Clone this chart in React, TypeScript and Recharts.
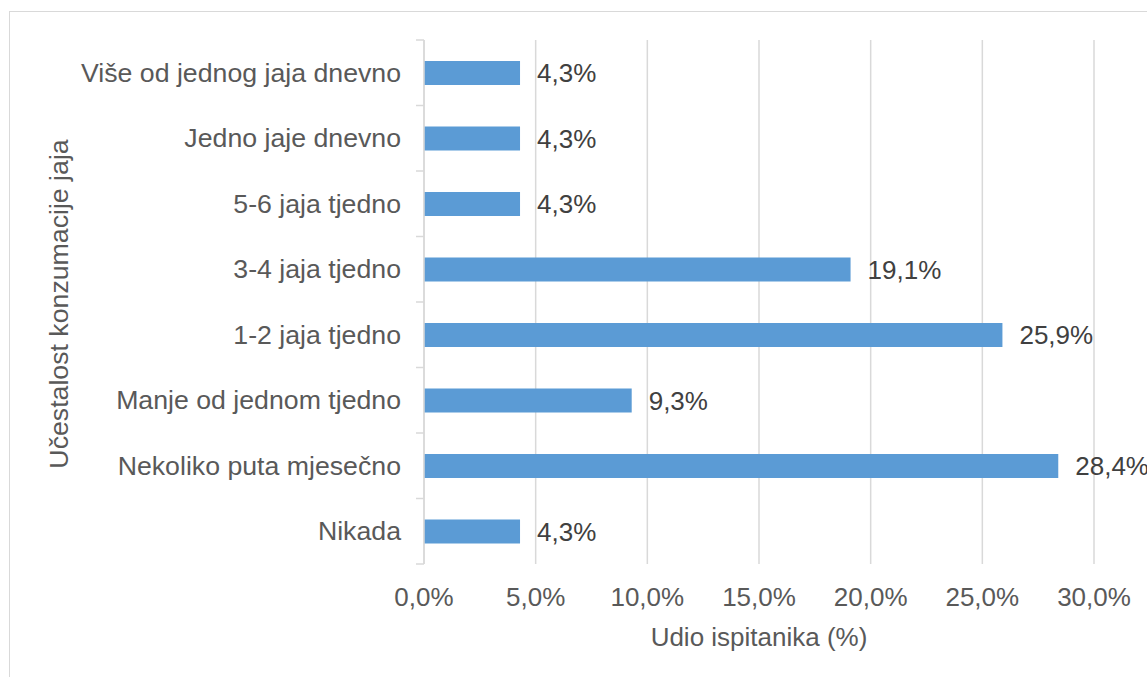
import { Bar, BarChart, CartesianGrid, LabelList, XAxis, YAxis } from "recharts";

const categories = [
  "Više od jednog jaja dnevno",
  "Jedno jaje dnevno",
  "5-6 jaja tjedno",
  "3-4 jaja tjedno",
  "1-2 jaja tjedno",
  "Manje od jednom tjedno",
  "Nekoliko puta mjesečno",
  "Nikada",
];
const shares = [4.3, 4.3, 4.3, 19.1, 25.9, 9.3, 28.4, 4.3];
const xTicks = [0, 5, 10, 15, 20, 25, 30];

const data = categories.map((name, i) => ({ name, value: shares[i] }));

const FONT = "'Liberation Sans', Arial, sans-serif";
const GRID = "#d9d9d9";
const CHART_W = 1147;
const CHART_H = 677;
const MARGIN = { top: 40, right: 53, bottom: 83, left: 0 };
const X_AXIS_H = 30;
const BAND = (CHART_H - MARGIN.top - MARGIN.bottom - X_AXIS_H) / categories.length;

const pct = (v: number) => v.toFixed(1).replace(".", ",") + "%";

const CategoryTick = (props: any) => {
  const { x, y, payload, index } = props;
  const axisX = x + 23;
  return (
    <g>
      <line x1={axisX - 8} x2={axisX} y1={y - BAND / 2} y2={y - BAND / 2} stroke={GRID} strokeWidth={1.5} />
      {index === categories.length - 1 && (
        <line x1={axisX - 8} x2={axisX} y1={y + BAND / 2} y2={y + BAND / 2} stroke={GRID} strokeWidth={1.5} />
      )}
      <text x={x} y={y} textAnchor="end" dominantBaseline="central" fill="#595959" fontSize={26.7} fontFamily={FONT}>
        {payload.value}
      </text>
    </g>
  );
};

const YTitle = (props: any) => {
  const { viewBox } = props;
  const cx = 68;
  const cy = viewBox.y + viewBox.height / 2 + 2;
  return (
    <text
      x={cx}
      y={cy}
      textAnchor="middle"
      transform={`rotate(-90, ${cx}, ${cy})`}
      fill="#595959"
      fontSize={26.7}
      fontFamily={FONT}
    >
      Učestalost konzumacije jaja
    </text>
  );
};

export default function App() {
  return (
    <div
      style={{
        position: "fixed",
        left: 0,
        top: 0,
        width: CHART_W,
        height: CHART_H,
        overflow: "hidden",
        background: "#fff",
      }}
    >
      <div
        style={{
          position: "absolute",
          left: 9,
          top: 11,
          width: 1200,
          height: 700,
          border: `1px solid ${GRID}`,
        }}
      />
      <div style={{ position: "absolute", left: 0, top: 0 }}>
        <BarChart width={CHART_W} height={CHART_H} data={data} layout="vertical" margin={MARGIN}>
          <CartesianGrid horizontal={false} stroke={GRID} strokeWidth={1.5} />
          <XAxis
            type="number"
            domain={[0, 30]}
            ticks={xTicks}
            tickFormatter={pct}
            height={X_AXIS_H}
            axisLine={false}
            tickLine={false}
            tickSize={6}
            tickMargin={18}
            tick={{ fontSize: 26, fill: "#595959", fontFamily: FONT }}
            label={{
              value: "Udio ispitanika (%)",
              position: "bottom",
              offset: 34,
              fontSize: 26,
              fill: "#595959",
              fontFamily: FONT,
            }}
          />
          <YAxis
            type="category"
            dataKey="name"
            width={424}
            axisLine={{ stroke: GRID, strokeWidth: 1.5 }}
            tickLine={false}
            tickSize={8}
            tickMargin={15}
            interval={0}
            tick={<CategoryTick />}
            label={{ content: <YTitle /> }}
          />
          <Bar dataKey="value" fill="#5b9bd5" barSize={24} isAnimationActive={false}>
            <LabelList
              dataKey="value"
              position="right"
              offset={17}
              formatter={(v: any) => pct(Number(v))}
              fill="#404040"
              fontSize={26}
              fontFamily={FONT}
            />
          </Bar>
        </BarChart>
      </div>
    </div>
  );
}
